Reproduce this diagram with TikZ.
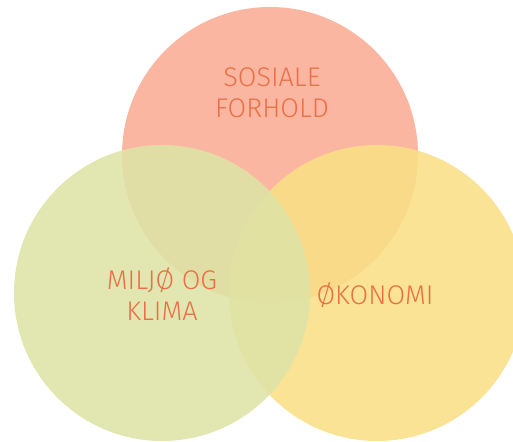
\documentclass[tikz,border=0pt]{standalone}
\usepackage{fontspec}
\setmainfont{Fira Sans Light}
\definecolor{topc}{RGB}{251,172,148}
\definecolor{leftc}{RGB}{222,228,166}
\definecolor{rightc}{RGB}{249,223,134}
\definecolor{txt}{RGB}{234,112,70}
\begin{document}
\begin{tikzpicture}[x=1pt,y=1pt,
  blob/.style={circle,minimum size=296pt,inner sep=0pt,fill opacity=0.88},
  lbl/.style={text=txt,font=\fontsize{27}{31}\selectfont,align=center}]
\useasboundingbox (0,0) rectangle (513,441);
\clip (0,0) rectangle (513,441);
\node[blob,fill=topc] (soc) at (270,286) {};
\node[blob,fill=rightc] (eco) at (377,148) {};
\node[blob,fill=leftc] (env) at (162,148) {};
\node[lbl] (tsoc) at (272,348) {SOSIALE\\FORHOLD};
\node[lbl] (tenv) at (162,147) {MILJØ OG\\KLIMA};
\node[lbl] (teco) at (375,146) {ØKONOMI};
\end{tikzpicture}
\end{document}
